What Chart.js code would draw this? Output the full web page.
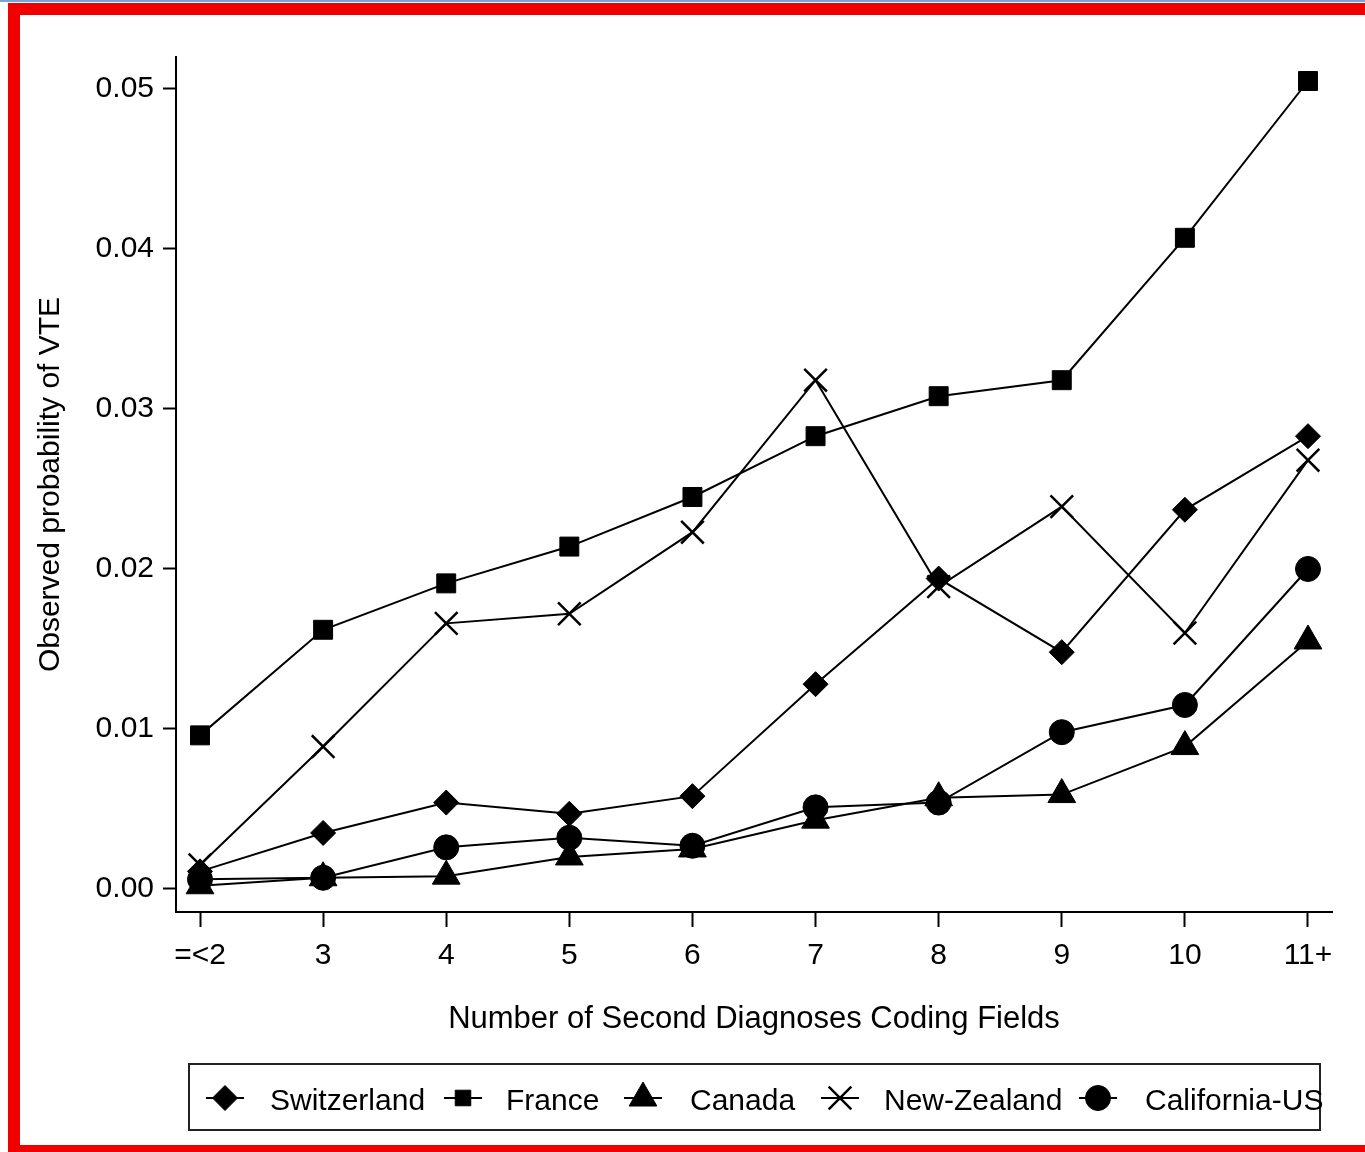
<!DOCTYPE html>
<html>
<head>
<meta charset="utf-8">
<title>Observed probability of VTE</title>
<script src="https://cdn.jsdelivr.net/npm/chart.js@4.4.1/dist/chart.umd.min.js"></script>
<style>
  html, body { margin: 0; padding: 0; background: #fff; }
  #wrap { position: relative; width: 1365px; height: 1152px; overflow: hidden; }
  #topline { position: absolute; left: 0; top: 0; width: 1365px; height: 2px; background: #7ea3d0; }
  #frame {
    position: absolute; left: 8px; top: 3px; width: 1400px; height: 1130px;
    border-top: 12px solid #f00000; border-left: 12px solid #f00000; border-bottom: 7px solid #f00000;
  }
  canvas { position: absolute; left: 0; top: 0; }
</style>
</head>
<body>
<div id="wrap">
  <div id="topline"></div>
  <div id="frame"></div>
  <canvas id="chart" width="1365" height="1152"></canvas>
</div>
<script>
// Data
const categories = ["=<2", "3", "4", "5", "6", "7", "8", "9", "10", "11+"];
const yTicks = [0, 0.01, 0.02, 0.03, 0.04, 0.05];

const switzerland = [0.0011, 0.0035, 0.0054, 0.0047, 0.0058, 0.0128, 0.0194, 0.0148, 0.0237, 0.0283];
const france = [0.0096, 0.0162, 0.0191, 0.0214, 0.0245, 0.0283, 0.0308, 0.0318, 0.0407, 0.0505];
const canada = [0.0002, 0.0007, 0.0008, 0.0020, 0.0025, 0.0043, 0.0057, 0.0059, 0.0089, 0.0155];
const newZealand = [0.0015, 0.0089, 0.0166, 0.0172, 0.0223, 0.0318, 0.0189, 0.0239, 0.0160, 0.0268];
const california = [0.0006, 0.0007, 0.0026, 0.0032, 0.0027, 0.0051, 0.0054, 0.0098, 0.0115, 0.0200];

const FONT = "'Liberation Sans', Arial, sans-serif";

function series(label, values, style, radius, borderW) {
  return {
    label: label,
    data: values.map((v, i) => ({ x: i, y: v })),
    borderColor: "#000",
    backgroundColor: "#000",
    borderWidth: 2,
    tension: 0,
    fill: false,
    clip: false,
    pointStyle: style,
    pointRadius: radius,
    pointHoverRadius: radius,
    pointBorderWidth: borderW,
    pointBackgroundColor: "#000",
    pointBorderColor: "#000",
  };
}

// Legend drawn like the Stata key: line segment + marker + label, inside a box
const keyBox = {
  id: "keyBox",
  afterDraw(chart) {
    const ctx = chart.ctx;
    const markerX = [225, 463, 643, 840, 1098];
    const textX = [270, 506, 690, 884, 1145];
    const y = 1098;
    ctx.save();
    ctx.strokeStyle = "#222";
    ctx.lineWidth = 2;
    ctx.strokeRect(189, 1064, 1131, 66);

    chart.data.datasets.forEach((ds, i) => {
      const mx = markerX[i];
      ctx.strokeStyle = "#000";
      ctx.lineWidth = 2;
      ctx.beginPath();
      ctx.moveTo(mx - 19, y);
      ctx.lineTo(mx + 19, y);
      ctx.stroke();

      ctx.fillStyle = "#000";
      ctx.lineWidth = ds.pointBorderWidth;
      const r = ds.pointStyle === "rect" ? 11 : ds.pointRadius;
      Chart.helpers.drawPoint(ctx, { pointStyle: ds.pointStyle, radius: r, borderWidth: ds.pointBorderWidth, rotation: 0 }, mx, y);

      ctx.fillStyle = "#000";
      ctx.font = "30px " + FONT;
      ctx.textAlign = "left";
      ctx.textBaseline = "alphabetic";
      ctx.fillText(ds.label, textX[i], 1110);
    });
    ctx.restore();
  },
};

const ctx = document.getElementById("chart");

new Chart(ctx, {
  type: "line",
  data: {
    datasets: [
      series("Switzerland", switzerland, "rectRot", 12.5, 1),
      series("France", france, "rect", 13.4, 1),
      series("Canada", canada, "triangle", 16, 1),
      series("New-Zealand", newZealand, "crossRot", 16, 2.5),
      series("California-US", california, "circle", 12.5, 1),
    ],
  },
  options: {
    responsive: false,
    animation: false,
    events: [],
    layout: { padding: { left: 20, top: 57, right: 33, bottom: 112 } },
    plugins: {
      legend: { display: false },
      tooltip: { enabled: false },
    },
    scales: {
      x: {
        type: "linear",
        bounds: "data",
        min: -0.195,
        max: 9.195,
        afterBuildTicks: (s) => {
          s.ticks = categories.map((_, i) => ({ value: i }));
        },
        afterFit: (s) => {
          s.height = 128;
        },
        grid: { display: true, drawOnChartArea: false, drawTicks: true, tickLength: 15, tickWidth: 2, tickColor: "#000" },
        border: { display: true, color: "#000", width: 2 },
        ticks: {
          color: "#000",
          font: { family: FONT, size: 30 },
          padding: 11,
          maxRotation: 0,
          autoSkip: false,
          callback: (v) => categories[v],
        },
        title: {
          display: true,
          text: "Number of Second Diagnoses Coding Fields",
          color: "#000",
          font: { family: FONT, size: 31 },
          padding: { top: 0, bottom: 2 },
        },
      },
      y: {
        type: "linear",
        bounds: "data",
        min: -0.00144,
        max: 0.052,
        afterBuildTicks: (s) => {
          s.ticks = yTicks.map((v) => ({ value: v }));
        },
        afterFit: (s) => {
          s.width = 156;
        },
        grid: { display: true, drawOnChartArea: false, drawTicks: true, tickLength: 13, tickWidth: 2, tickColor: "#000" },
        border: { display: true, color: "#000", width: 2 },
        ticks: {
          color: "#000",
          font: { family: FONT, size: 30 },
          padding: 9,
          callback: (v) => v.toFixed(2),
        },
        title: {
          display: true,
          text: "Observed probability of VTE",
          color: "#000",
          font: { family: FONT, size: 30 },
          padding: { top: 13, bottom: 0 },
        },
      },
    },
  },
  plugins: [keyBox],
});
</script>
</body>
</html>
